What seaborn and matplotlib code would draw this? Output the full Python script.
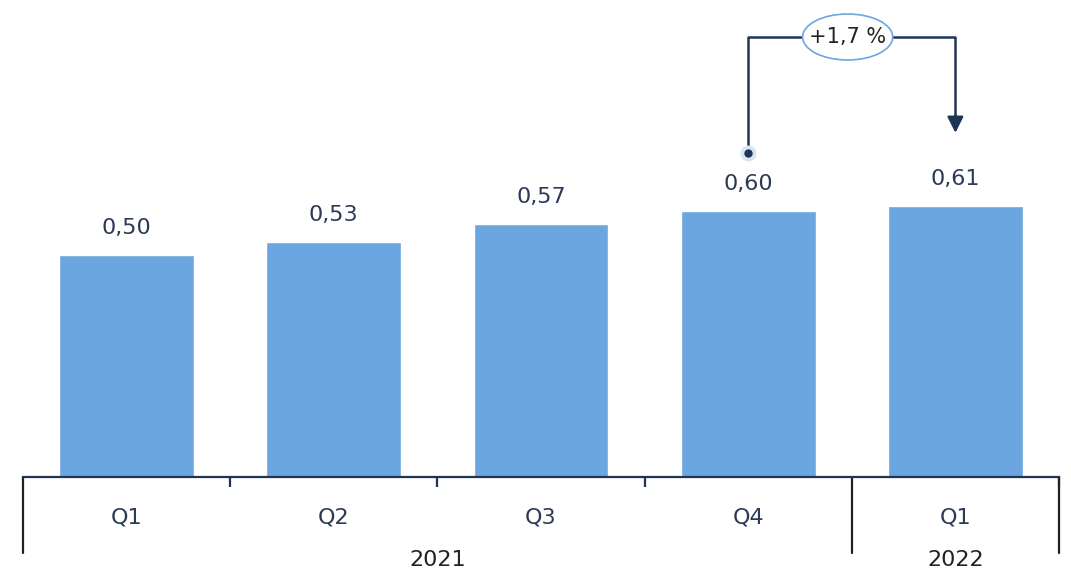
import matplotlib
matplotlib.use("Agg")
import matplotlib.pyplot as plt
import matplotlib.transforms as mtransforms
from matplotlib.patches import Ellipse
import pandas as pd
import seaborn as sns

# data
periods = ["2021 Q1", "2021 Q2", "2021 Q3", "2021 Q4", "2022 Q1"]
quarters = ["Q1", "Q2", "Q3", "Q4", "Q1"]
values = [0.50, 0.53, 0.57, 0.60, 0.61]
years = ["2021", "2022"]
change_label = "+1,7 %"

bar_color = "#6CA6E0"
navy = "#1F3556"
text_color = "#2B3A55"

sns.set_theme(style="white")
plt.rcParams["font.family"] = ["DejaVu Sans"]

df = pd.DataFrame({"period": periods, "value": values})

fig = plt.figure(figsize=(10.71, 5.72), dpi=100)
ax = fig.add_axes([23 / 1071, 95 / 572, (1059 - 23) / 1071, 477 / 572])

sns.barplot(data=df, x="period", y="value", order=periods, color=bar_color,
            width=0.65, saturation=1, ax=ax)

ax.set_xlim(-0.5, 4.5)
ax.set_ylim(0, 477 / 444)
ax.set_yticks([])
ax.set_xlabel("")
ax.set_ylabel("")
for s in ["left", "right", "top"]:
    ax.spines[s].set_visible(False)
ax.spines["bottom"].set_color(navy)
ax.spines["bottom"].set_linewidth(1.6)

# quarter labels
ax.set_xticks(range(len(periods)))
ax.set_xticklabels(quarters, fontsize=16, color=text_color)
ax.tick_params(axis="x", which="major", length=0, pad=22)
ax.set_xticks([0.5, 1.5, 2.5, 4.5], minor=True)
ax.tick_params(axis="x", which="minor", length=7, width=1.6, color=navy, bottom=True)

# value labels
for i, v in enumerate(values):
    ax.text(i, v + 0.061, f"{v:.2f}".replace(".", ","), ha="center", va="center",
            fontsize=16, color=text_color)

# year separators and labels
trans = mtransforms.blended_transform_factory(ax.transData, ax.transAxes)
for xs in [-0.5, 3.5, 4.5]:
    ax.plot([xs, xs], [0, -76 / 477], transform=trans, color="#222222",
            lw=1.6, clip_on=False)
ax.text(1.5, -83 / 477, years[0], transform=trans, ha="center", va="center",
        fontsize=16, color="#222222")
ax.text(4, -83 / 477, years[1], transform=trans, ha="center", va="center",
        fontsize=16, color="#222222")

# change annotation from Q4 2021 to Q1 2022
y_start = 0.73
y_top = 0.991
y_tip = 0.775
ax.plot([3, 3, 4, 4], [y_start, y_top, y_top, y_tip + 0.03], color=navy, lw=1.8,
        clip_on=False, zorder=3)
ax.annotate("", xy=(4, y_tip), xytext=(4, y_tip + 0.04),
            arrowprops=dict(arrowstyle="-|>,head_length=0.8,head_width=0.4",
                            color=navy, lw=1.8, shrinkA=0, shrinkB=0))
ax.scatter([3], [y_start], s=110, color="#D6E6F5", zorder=3, clip_on=False)
ax.scatter([3], [y_start], s=25, color=navy, zorder=4, clip_on=False)
ell = Ellipse((3.48, y_top), width=90 / 207, height=46 / 444, facecolor="white",
              edgecolor="#6CA6E0", lw=1.2, zorder=5, clip_on=False)
ax.add_patch(ell)
ax.text(3.48, y_top, change_label, ha="center", va="center", fontsize=15,
        color="#222222", zorder=6)

fig.savefig("out.png", dpi=100)
